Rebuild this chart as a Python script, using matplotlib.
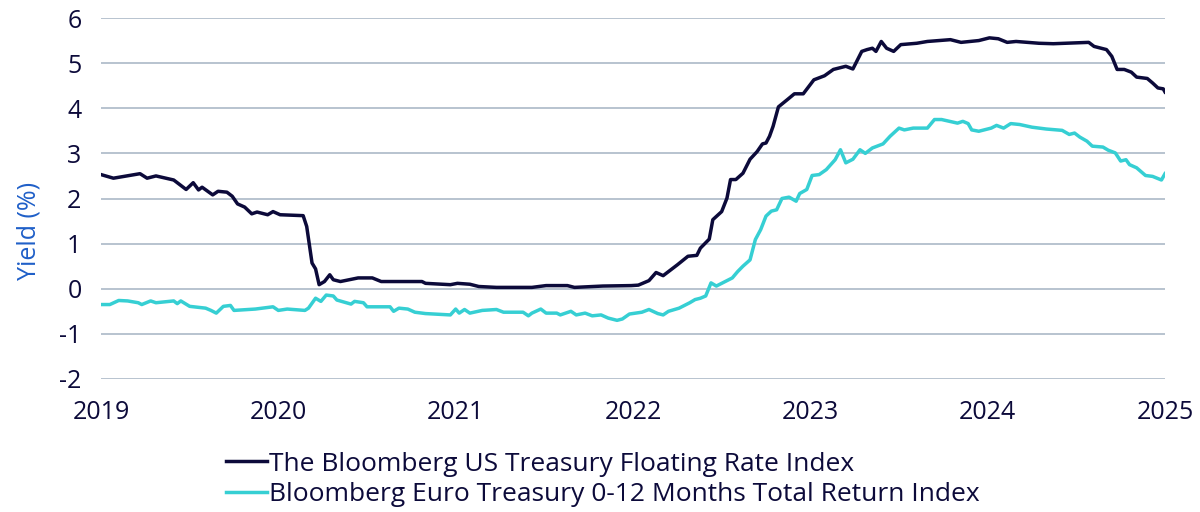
"""
Figure: US vs Euro short treasury index yields, 2019-2025
"""
import matplotlib
matplotlib.use("Agg")
import matplotlib.pyplot as plt

# --------------------------------------------------------------------------------
# data (decimal years / yield in %)
# --------------------------------------------------------------------------------
US_T = [2019.00, 2019.07, 2019.22, 2019.26, 2019.31, 2019.41, 2019.48, 2019.52, 2019.55, 2019.57,
        2019.63, 2019.66, 2019.71, 2019.74, 2019.77, 2019.81, 2019.85, 2019.88, 2019.94, 2019.97,
        2020.01, 2020.14, 2020.16, 2020.19, 2020.21, 2020.23, 2020.26, 2020.29, 2020.31, 2020.35,
        2020.45, 2020.53, 2020.58, 2020.81, 2020.83, 2020.97, 2021.01, 2021.08, 2021.13, 2021.23,
        2021.43, 2021.51, 2021.63, 2021.67, 2021.83, 2021.99, 2022.03, 2022.09, 2022.13, 2022.17,
        2022.25, 2022.31, 2022.36, 2022.38, 2022.43, 2022.45, 2022.50, 2022.53, 2022.55, 2022.58,
        2022.62, 2022.66, 2022.70, 2022.73, 2022.75, 2022.77, 2022.79, 2022.82, 2022.87, 2022.91,
        2022.96, 2023.02, 2023.08, 2023.13, 2023.20, 2023.24, 2023.29, 2023.32, 2023.35, 2023.37,
        2023.40, 2023.43, 2023.47, 2023.51, 2023.60, 2023.66, 2023.79, 2023.85, 2023.95, 2024.01,
        2024.06, 2024.11, 2024.16, 2024.29, 2024.37, 2024.57, 2024.60, 2024.67, 2024.70, 2024.73,
        2024.77, 2024.81, 2024.84, 2024.90, 2024.93, 2024.96, 2024.99, 2025.00]
US_Y = [2.53, 2.45, 2.55, 2.45, 2.50, 2.41, 2.20, 2.35, 2.19, 2.25,
        2.08, 2.16, 2.14, 2.05, 1.88, 1.81, 1.66, 1.70, 1.64, 1.71,
        1.64, 1.62, 1.38, 0.57, 0.44, 0.09, 0.16, 0.31, 0.20, 0.16,
        0.24, 0.24, 0.16, 0.16, 0.12, 0.09, 0.12, 0.10, 0.05, 0.03,
        0.03, 0.07, 0.07, 0.03, 0.06, 0.07, 0.08, 0.18, 0.36, 0.29,
        0.53, 0.72, 0.74, 0.90, 1.10, 1.53, 1.71, 2.01, 2.42, 2.42,
        2.56, 2.87, 3.04, 3.21, 3.23, 3.38, 3.60, 4.03, 4.19, 4.32,
        4.32, 4.63, 4.72, 4.86, 4.93, 4.87, 5.26, 5.30, 5.33, 5.26,
        5.48, 5.33, 5.26, 5.41, 5.44, 5.48, 5.52, 5.46, 5.50, 5.56,
        5.54, 5.46, 5.48, 5.44, 5.43, 5.46, 5.37, 5.30, 5.15, 4.86,
        4.86, 4.80, 4.69, 4.66, 4.56, 4.45, 4.43, 4.36]

EU_T = [2019.00, 2019.05, 2019.10, 2019.15, 2019.21, 2019.23, 2019.28, 2019.31, 2019.41, 2019.43,
        2019.45, 2019.50, 2019.59, 2019.62, 2019.65, 2019.69, 2019.73, 2019.75, 2019.87, 2019.97,
        2020.00, 2020.05, 2020.15, 2020.17, 2020.21, 2020.24, 2020.27, 2020.31, 2020.33, 2020.41,
        2020.43, 2020.48, 2020.50, 2020.63, 2020.65, 2020.68, 2020.73, 2020.77, 2020.83, 2020.97,
        2021.00, 2021.02, 2021.05, 2021.08, 2021.15, 2021.23, 2021.27, 2021.38, 2021.41, 2021.43,
        2021.48, 2021.51, 2021.57, 2021.59, 2021.65, 2021.68, 2021.73, 2021.77, 2021.82, 2021.86,
        2021.91, 2021.94, 2021.98, 2022.05, 2022.09, 2022.14, 2022.17, 2022.20, 2022.26, 2022.32,
        2022.35, 2022.38, 2022.41, 2022.44, 2022.47, 2022.51, 2022.56, 2022.59, 2022.62, 2022.66,
        2022.69, 2022.72, 2022.75, 2022.78, 2022.81, 2022.84, 2022.88, 2022.92, 2022.94, 2022.98,
        2023.01, 2023.05, 2023.09, 2023.14, 2023.17, 2023.20, 2023.24, 2023.28, 2023.31, 2023.35,
        2023.41, 2023.45, 2023.50, 2023.53, 2023.58, 2023.66, 2023.70, 2023.74, 2023.83, 2023.86,
        2023.89, 2023.91, 2023.95, 2024.02, 2024.05, 2024.09, 2024.13, 2024.18, 2024.25, 2024.33,
        2024.42, 2024.46, 2024.49, 2024.52, 2024.56, 2024.59, 2024.65, 2024.68, 2024.72, 2024.75,
        2024.78, 2024.80, 2024.84, 2024.89, 2024.93, 2024.98, 2025.00]
EU_Y = [-0.35, -0.35, -0.26, -0.27, -0.31, -0.35, -0.27, -0.31, -0.27, -0.33,
        -0.27, -0.39, -0.43, -0.48, -0.54, -0.39, -0.37, -0.48, -0.45, -0.40,
        -0.48, -0.45, -0.48, -0.43, -0.21, -0.28, -0.14, -0.16, -0.25, -0.34,
        -0.28, -0.31, -0.40, -0.40, -0.50, -0.43, -0.45, -0.52, -0.55, -0.58,
        -0.45, -0.54, -0.46, -0.54, -0.48, -0.46, -0.52, -0.52, -0.60, -0.54,
        -0.45, -0.54, -0.54, -0.58, -0.50, -0.58, -0.54, -0.60, -0.58, -0.65,
        -0.70, -0.67, -0.56, -0.52, -0.46, -0.55, -0.58, -0.50, -0.43, -0.31,
        -0.24, -0.21, -0.16, 0.13, 0.06, 0.14, 0.24, 0.38, 0.50, 0.64,
        1.09, 1.31, 1.61, 1.72, 1.75, 2.00, 2.03, 1.94, 2.11, 2.20,
        2.51, 2.53, 2.64, 2.86, 3.08, 2.79, 2.87, 3.08, 3.00, 3.12,
        3.21, 3.38, 3.56, 3.52, 3.56, 3.56, 3.75, 3.75, 3.67, 3.71,
        3.66, 3.52, 3.49, 3.56, 3.62, 3.56, 3.66, 3.64, 3.58, 3.54,
        3.51, 3.42, 3.45, 3.36, 3.27, 3.16, 3.14, 3.07, 3.01, 2.83,
        2.86, 2.75, 2.68, 2.51, 2.49, 2.41, 2.55]

SERIES_LABELS = ["The Bloomberg US Treasury Floating Rate Index",
                 "Bloomberg Euro Treasury 0-12 Months Total Return Index"]
X_TICKS = [2019, 2020, 2021, 2022, 2023, 2024, 2025]
Y_TICKS = [-2, -1, 0, 1, 2, 3, 4, 5, 6]

# plot
COLOR_US = "#0c0a3a"
COLOR_EU = "#36cfd3"
COLOR_TEXT = "#0c0a3a"
COLOR_YLABEL = "#1f5fc8"
COLOR_GRID = "#b8c3cf"
FONT = "Open Sans"
FONT_SIZE = 18
LEGEND_SIZE = 19

# --------------------------------------------------------------------------------
# draw
# --------------------------------------------------------------------------------
plt.rcParams["font.family"] = [FONT, "DejaVu Sans"]

fig = plt.figure(figsize=(12, 5.12), dpi=100, facecolor="w")
ax = fig.add_axes([101 / 1200, 1 - 379 / 512, 1064 / 1200, 361 / 512])

ax.plot(US_T, US_Y, color=COLOR_US, linewidth=2.5, label=SERIES_LABELS[0], zorder=3)
ax.plot(EU_T, EU_Y, color=COLOR_EU, linewidth=2.5, label=SERIES_LABELS[1], zorder=3)

ax.set_xlim(2019, 2025)
ax.set_ylim(-2, 6)
ax.set_xticks(X_TICKS)
ax.set_yticks(Y_TICKS)
ax.set_xticklabels([str(t) for t in X_TICKS])
ax.set_yticklabels([str(t) for t in Y_TICKS])
ax.tick_params(axis="both", length=0, labelsize=FONT_SIZE, labelcolor=COLOR_TEXT)
ax.tick_params(axis="x", pad=15)
ax.tick_params(axis="y", pad=14)

ax.grid(axis="y", color=COLOR_GRID, linewidth=1.4)
ax.set_axisbelow(True)
for side in ["top", "right", "left", "bottom"]:
    ax.spines[side].set_visible(False)

ax.set_ylabel("Yield (%)", color=COLOR_YLABEL, fontsize=FONT_SIZE)
ax.yaxis.set_label_coords(-0.056, 0.41)

fig.legend(loc="upper left", bbox_to_anchor=(0.188, 0.118), frameon=False,
           fontsize=LEGEND_SIZE, labelcolor=COLOR_TEXT, handlelength=1.55,
           handletextpad=0.1, labelspacing=0.2, borderaxespad=0, borderpad=0)

plt.savefig("out.png", dpi=100, facecolor="w")
plt.close()
